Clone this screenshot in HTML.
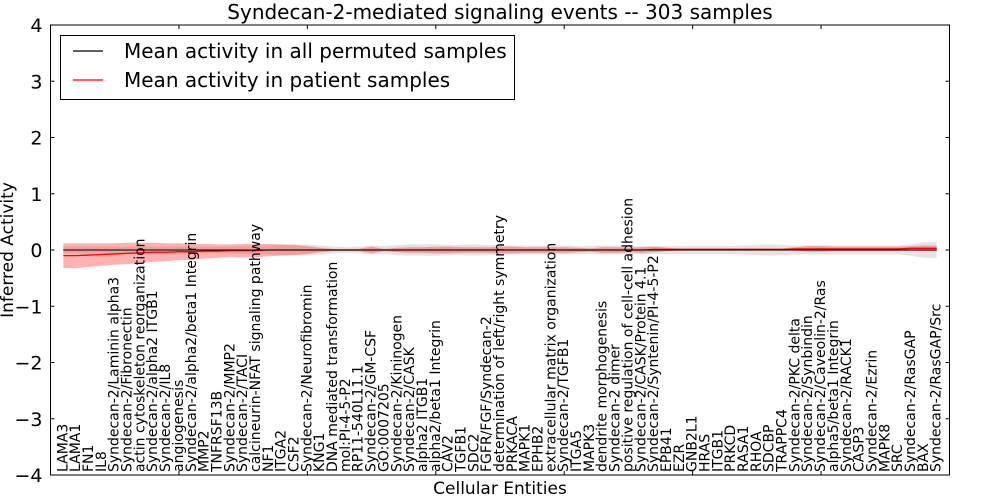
<!DOCTYPE html>
<html><head><meta charset="utf-8">
<style>
html,body{margin:0;padding:0;background:#fff;width:1000px;height:500px;overflow:hidden}
svg text{font-family:"DejaVu Sans","Liberation Sans",sans-serif;fill:#000}
</style></head>
<body>
<svg id="chart" width="1000" height="500" xmlns="http://www.w3.org/2000/svg">
<text x="500" y="19" text-anchor="middle" font-size="20">Syndecan-2-mediated signaling events -- 303 samples</text>
<g id="bands"></g>
<g id="lines"></g>
<g id="axes"></g>
<g id="labels"></g>
<text x="500" y="494" text-anchor="middle" font-size="17">Cellular Entities</text>
<text transform="translate(13,250) rotate(-90)" text-anchor="middle" font-size="17">Inferred Activity</text>
<g>
<rect x="60.5" y="35.5" width="454" height="64" fill="#fff" stroke="#000" stroke-width="1"/>
<line x1="73" y1="51" x2="103" y2="51" stroke="#000" stroke-width="1.2"/>
<text x="124" y="58" font-size="20">Mean activity in all permuted samples</text>
<line x1="73" y1="80" x2="103" y2="80" stroke="#f00" stroke-width="1.2"/>
<text x="124" y="87" font-size="20">Mean activity in patient samples</text>
</g>
</svg>
<script>
const entities = ["LAMA3","LAMA1","FN1","IL8","Syndecan-2/Laminin alpha3","Syndecan-2/Fibronectin","actin cytoskeleton reorganization","Syndecan-2/alpha2 ITGB1","Syndecan-2/IL8","angiogenesis","Syndecan-2/alpha2/beta1 Integrin","MMP2","TNFRSF13B","Syndecan-2/MMP2","Syndecan-2/TACI","calcineurin-NFAT signaling pathway","NF1","ITGA2","CSF2","Syndecan-2/Neurofibromin","KNG1","DNA mediated transformation","mol:PI-4-5-P2","RP11-540L11.1","Syndecan-2/GM-CSF","GO:0007205","Syndecan-2/Kininogen","Syndecan-2/CASK","alpha2 ITGB1","alpha2/beta1 Integrin","CAV2","TGFB1","SDC2","FGFR/FGF/Syndecan-2","determination of left/right symmetry","PRKACA","MAPK1","EPHB2","extracellular matrix organization","Syndecan-2/TGFB1","ITGA5","MAPK3","dendrite morphogenesis","Syndecan-2 dimer","positive regulation of cell-cell adhesion","Syndecan-2/CASK/Protein 4.1","Syndecan-2/Syntenin/PI-4-5-P2","EPB41","EZR","GNB2L1","HRAS","ITGB1","PRKCD","RASA1","RHOA","SDCBP","TRAPPC4","Syndecan-2/PKC delta","Syndecan-2/Synbindin","Syndecan-2/Caveolin-2/Ras","alpha5/beta1 Integrin","Syndecan-2/RACK1","CASP3","Syndecan-2/Ezrin","MAPK8","SRC","Syndecan-2/RasGAP","BAX","Syndecan-2/RasGAP/Src"];
const patientMean = [-0.10,-0.10,-0.09,-0.08,-0.07,-0.06,-0.05,-0.04,-0.04,-0.03,-0.03,-0.02,-0.02,-0.01,-0.01,-0.01,0,0,0,0,0,0,0,0,0,0,0,0,0,0,0,0,0,0,0,0,0,0,0,0,0,0,0,0,0,0,0.01,0.01,0.01,0.01,0.01,0.01,0.01,0.01,0.01,0.01,0.01,0.02,0.02,0.02,0.02,0.02,0.02,0.02,0.02,0.02,0.03,0.03,0.03];
const patientSd = [0.22,0.22,0.21,0.2,0.19,0.19,0.18,0.17,0.16,0.15,0.14,0.13,0.12,0.11,0.12,0.12,0.11,0.1,0.09,0.07,0.04,0.02,0.02,0.02,0.06,0.02,0.04,0.05,0.05,0.06,0.06,0.05,0.05,0.05,0.06,0.06,0.05,0.05,0.05,0.05,0.04,0.03,0.05,0.05,0.04,0.05,0.05,0.03,0.02,0.02,0.02,0.02,0.02,0.02,0.02,0.02,0.02,0.03,0.05,0.05,0.04,0.04,0.04,0.04,0.04,0.04,0.04,0.05,0.05];
const permMean = [0,0,0,0,0,0,0,0,0,0,0,0,0,0,0,0,0,0,0,0,0,0,0,0,0,0,0,0,0,0,0,0,0,0,0,0,0,0,0,0,0,0,0,0,0,0,0,0,0,0,0,0,0,0,0,0,0,0,0,0,0,0,0,0,0,0,0,0,0];
const permSd = [0.06,0.06,0.06,0.06,0.06,0.06,0.06,0.06,0.06,0.06,0.06,0.06,0.06,0.06,0.07,0.07,0.08,0.09,0.1,0.1,0.08,0.06,0.05,0.06,0.08,0.07,0.09,0.1,0.1,0.1,0.09,0.09,0.1,0.09,0.09,0.08,0.08,0.08,0.08,0.08,0.07,0.07,0.08,0.08,0.07,0.07,0.07,0.07,0.07,0.07,0.07,0.07,0.07,0.08,0.09,0.1,0.09,0.08,0.08,0.08,0.08,0.08,0.08,0.08,0.08,0.08,0.1,0.14,0.14];
const yTicks = [-4,-3,-2,-1,0,1,2,3,4];
const xTicks = [0,10,20,30,40,50,60,70];

const L=50.5,R=949.5,T=25,B=475;
function xs(v){return L+(R-L)*v/70;}
function ys(v){return B-(B-T)*(v+4)/8;}
const NS="http://www.w3.org/2000/svg";
function mk(tag,attrs,parent){const e=document.createElementNS(NS,tag);for(const k in attrs)e.setAttribute(k,attrs[k]);parent.appendChild(e);return e;}
const bands=document.getElementById('bands'),lines=document.getElementById('lines'),axes=document.getElementById('axes'),labels=document.getElementById('labels');
function band(mean,sd,fill,op,name){
  let up=mean.map((m,i)=>xs(i+1)+","+ys(m+sd[i]));
  let dn=mean.map((m,i)=>xs(i+1)+","+ys(m-sd[i])).reverse();
  const p=mk('polygon',{points:up.concat(dn).join(' '),fill:fill,'fill-opacity':op},bands);
  
  
}
band(permMean,permSd,'#bbbbbb',0.4,'permuted-band');
band(patientMean,patientSd,'#f00',0.3,'patient-band');
function line(mean,color,w,name,dash){
  const a={points:mean.map((m,i)=>xs(i+1)+","+ys(m)).join(' '),fill:'none',stroke:color,'stroke-width':w};
  if(dash)a['stroke-dasharray']=dash;
  const p=mk('polyline',a,lines);
  
  
}
line(patientMean,'#f00',1.3,'patient-mean-line');
line(permMean,'#000',1,'permuted-mean-line');
line(permMean,'#000',1,'zero-dotted-line','1.5,3');
const box=mk('rect',{x:L,y:T,width:R-L,height:B-T,fill:'none',stroke:'#000','stroke-width':1},axes);


yTicks.forEach(v=>{
  const y=ys(v);
  mk('line',{x1:L,y1:y,x2:L+4,y2:y,stroke:'#000'},axes);
  mk('line',{x1:R,y1:y,x2:R-4,y2:y,stroke:'#000'},axes);
  const t=mk('text',{x:L-8,y:y+7,'text-anchor':'end','font-size':19},axes);
  t.textContent=(v<0?'\u2212':'')+Math.abs(v);
  
  
});
xTicks.forEach(v=>{
  const x=xs(v);
  mk('line',{x1:x,y1:T,x2:x,y2:T+4,stroke:'#000'},axes);
  mk('line',{x1:x,y1:B,x2:x,y2:B-4,stroke:'#000'},axes);
});
entities.forEach((n,i)=>{
  const x=xs(i+1);
  const t=mk('text',{transform:`translate(${x+4},472) rotate(-90)`,'font-size':14},labels);
  t.textContent=n;
  
  
});
</script>
</body></html>
